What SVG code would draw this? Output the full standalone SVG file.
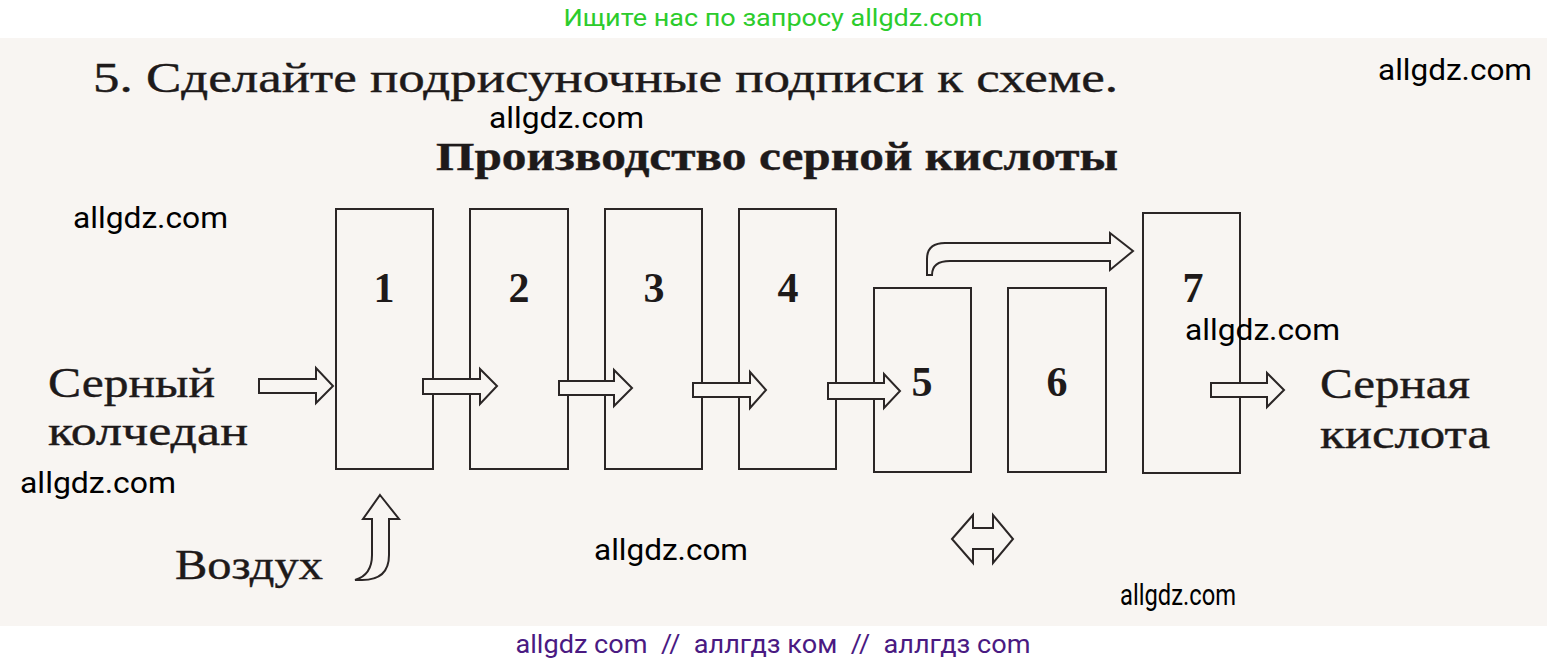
<svg xmlns="http://www.w3.org/2000/svg" width="1547" height="665" viewBox="0 0 1547 665">
<style>
.box{fill:none;stroke:#2b2626;stroke-width:2}
.arr{fill:#f8f5f2;stroke:#2b2626;stroke-width:2;stroke-linejoin:miter}
.serif{font-family:"Liberation Serif","DejaVu Serif",serif;fill:#1e1a1a;stroke:#1e1a1a;stroke-width:0.4}
.num{font-family:"Liberation Serif","DejaVu Serif",serif;font-weight:bold;font-size:42px;fill:#1e1a1a;text-anchor:middle}
.wm{font-family:Roboto,"Liberation Sans",sans-serif;font-size:30px;fill:#000}
</style>
<rect x="0" y="0" width="1547" height="665" fill="#ffffff"/>
<rect x="0" y="38" width="1547" height="588" fill="#f8f5f2"/>
<text x="773" y="26" text-anchor="middle" font-family="Roboto,'Liberation Sans',sans-serif" font-size="24" fill="#2ccc2c" textLength="419" lengthAdjust="spacingAndGlyphs">Ищите нас по запросу allgdz.com</text>
<text class="serif" x="93" y="92" font-size="42" textLength="1025" lengthAdjust="spacingAndGlyphs">5. Сделайте подрисуночные подписи к схеме.</text>
<text class="serif" x="436" y="170" font-size="39" font-weight="bold" textLength="682" lengthAdjust="spacingAndGlyphs">Производство серной кислоты</text>

<g id="node1"><rect class="box" x="336" y="209" width="97" height="260"/><text class="num" x="384" y="302">1</text></g>
<g id="node2"><rect class="box" x="470" y="209" width="98" height="260"/><text class="num" x="519" y="302">2</text></g>
<g id="node3"><rect class="box" x="605" y="209" width="97" height="260"/><text class="num" x="654" y="302">3</text></g>
<g id="node4"><rect class="box" x="739" y="209" width="97" height="260"/><text class="num" x="788" y="302">4</text></g>
<g id="node5"><rect class="box" x="874" y="288" width="97" height="184"/><text class="num" x="922" y="396">5</text></g>
<g id="node6"><rect class="box" x="1008" y="288" width="98" height="184"/><text class="num" x="1057" y="396">6</text></g>
<g id="node7"><rect class="box" x="1143" y="213" width="97" height="260"/><text class="num" x="1193" y="302">7</text></g>

<g id="input">
<text class="serif" x="48" y="397" font-size="43" textLength="167" lengthAdjust="spacingAndGlyphs">Серный</text>
<text class="serif" x="48" y="445" font-size="43" textLength="200" lengthAdjust="spacingAndGlyphs">колчедан</text>
</g>
<g id="output">
<text class="serif" x="1320" y="398" font-size="43" textLength="150" lengthAdjust="spacingAndGlyphs">Серная</text>
<text class="serif" x="1320" y="448" font-size="43" textLength="170" lengthAdjust="spacingAndGlyphs">кислота</text>
</g>
<g id="air">
<text class="serif" x="175" y="579" font-size="43" textLength="148" lengthAdjust="spacingAndGlyphs">Воздух</text>
</g>

<g id="connectors">
<path class="arr" d="M259,379 L316,379 L316,368 L333,386 L316,403 L316,393 L259,393 Z"/>
<path class="arr" d="M423,379 L480,379 L480,369 L497,386 L480,404 L480,394 L423,394 Z"/>
<path class="arr" d="M559,381 L614,381 L614,370 L632,388 L614,406 L614,395 L559,395 Z"/>
<path class="arr" d="M693,383 L750,383 L750,372 L766,390 L750,408 L750,397 L693,397 Z"/>
<path class="arr" d="M828,383 L884,383 L884,374 L900,391 L884,408 L884,399 L828,399 Z"/>
<path class="arr" d="M1211,383 L1267,383 L1267,373 L1284,390 L1267,407 L1267,397 L1211,397 Z"/>
<path class="arr" d="M927,275 L927,259 Q927,243 945,243 L1110,243 L1110,233 L1133,251 L1110,270 L1110,261 L950,261 Q932,261 932,275 Z"/>
<path class="arr" d="M380,495 L399,519 L389,519 L389,555 Q389,580 362,580 L355,580 Q372,575 372,555 L372,519 L363,519 Z"/>
<path class="arr" d="M952,539 L973,515 L973,528 L993,528 L993,515 L1013,539 L993,563 L993,549 L973,549 L973,563 Z"/>
</g>

<g id="watermarks">
<text class="wm" x="1378" y="80" textLength="154" lengthAdjust="spacingAndGlyphs">allgdz.com</text>
<text class="wm" x="489" y="128" textLength="155" lengthAdjust="spacingAndGlyphs">allgdz.com</text>
<text class="wm" x="73" y="228" textLength="155" lengthAdjust="spacingAndGlyphs">allgdz.com</text>
<text class="wm" x="1185" y="340" textLength="155" lengthAdjust="spacingAndGlyphs">allgdz.com</text>
<text class="wm" x="20" y="493" textLength="156" lengthAdjust="spacingAndGlyphs">allgdz.com</text>
<text class="wm" x="594" y="560" textLength="154" lengthAdjust="spacingAndGlyphs">allgdz.com</text>
<text class="wm" x="1120" y="605" font-size="22" textLength="116" lengthAdjust="spacingAndGlyphs">allgdz.com</text>
</g>
<text x="773" y="653" text-anchor="middle" font-family="Roboto,'Liberation Sans',sans-serif" font-size="25" fill="#4a1a82" textLength="515" lengthAdjust="spacingAndGlyphs" xml:space="preserve">allgdz com  //  аллгдз ком  //  аллгдз com</text>
</svg>
